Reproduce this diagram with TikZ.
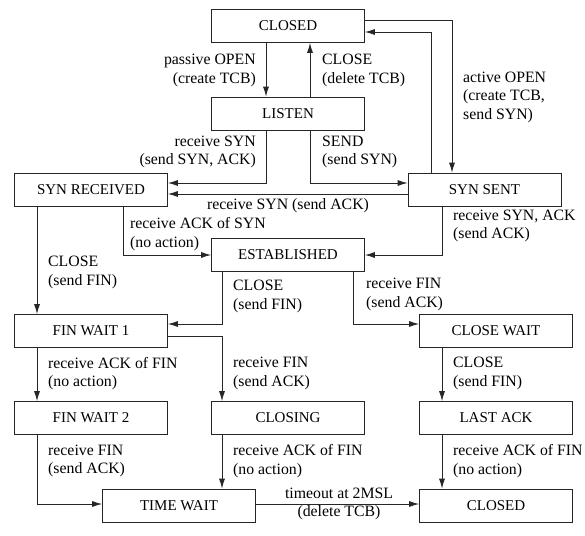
\documentclass[tikz,border=0pt]{standalone}
\usepackage{fontspec}
\setmainfont{Liberation Serif}
\usetikzlibrary{arrows.meta}
\begin{document}
\begin{tikzpicture}[x=1pt,y=-1pt,
  state/.style={draw=black!85, line width=0.8pt, rectangle, minimum width=153pt, minimum height=33pt, inner sep=0pt, font=\fontsize{15}{18}\selectfont},
  lbl/.style={inner sep=0pt, font=\fontsize{15.8}{18.5}\selectfont},
  lblL/.style={lbl, anchor=west, align=left},
  lblR/.style={lbl, anchor=east, align=right},
  conn/.style={draw=black!85, line width=0.8pt, -{Latex[length=10pt,width=6pt]}}
]
\useasboundingbox (0,0) rectangle (585,535);
\node[state] (closedT) at (288,26) {CLOSED};
\node[state] (listen) at (288,113.5) {LISTEN};
\node[state] (synrcvd) at (91,189.5) {SYN RECEIVED};
\node[state] (synsent) at (484.5,189.5) {SYN SENT};
\node[state] (estab) at (288,255) {ESTABLISHED};
\node[state] (finwait1) at (91,331) {FIN WAIT 1};
\node[state] (closewait) at (496,331) {CLOSE WAIT};
\node[state] (finwait2) at (91,418) {FIN WAIT 2};
\node[state] (closing) at (288,418) {CLOSING};
\node[state] (lastack) at (496,418) {LAST ACK};
\node[state] (timewait) at (179,505.5) {TIME WAIT};
\node[state] (closedB) at (496,505.5) {CLOSED};

% connectors
\draw[conn] ([xshift=-22pt]closedT.south) -- ([xshift=-22pt]listen.north);
\draw[conn] ([xshift=22pt]listen.north) -- ([xshift=22pt]closedT.south);
\draw[conn] ([yshift=6pt]closedT.east) -| ([xshift=-32.5pt]synsent.north);
\draw[conn] ([xshift=-53.5pt]synsent.north) |- ([yshift=-6pt]closedT.east);
\draw[conn] ([xshift=-22pt]listen.south) |- ([yshift=6.5pt]synrcvd.east);
\draw[conn] ([xshift=22pt]listen.south) |- ([yshift=6.5pt]synsent.west);
\draw[conn] ([yshift=-4.5pt]synsent.west) -- ([yshift=-4.5pt]synrcvd.east);
\draw[conn] ([xshift=32pt]synrcvd.south) |- (estab.west);
\draw[conn] ([xshift=-42.5pt]synsent.south) |- (estab.east);
\draw[conn] ([xshift=-54pt]synrcvd.south) -- ([xshift=-54pt]finwait1.north);
\draw[conn] ([xshift=-66pt]estab.south) |- ([yshift=7pt]finwait1.east);
\draw[conn] ([xshift=65pt]estab.south) |- ([yshift=7pt]closewait.west);
\draw[conn] ([xshift=-54pt]finwait1.south) -- ([xshift=-54pt]finwait2.north);
\draw[conn] ([yshift=-5pt]finwait1.east) -| ([xshift=-66pt]closing.north);
\draw[conn] ([xshift=-54pt]closewait.south) -- ([xshift=-54pt]lastack.north);
\draw[conn] ([xshift=-54pt]finwait2.south) |- ([yshift=1.5pt]timewait.west);
\draw[conn] ([xshift=-66pt]closing.south) -- ([xshift=43pt]timewait.north);
\draw[conn] ([xshift=-54pt]lastack.south) -- ([xshift=-54pt]closedB.north);
\draw[conn] ([yshift=1.5pt]timewait.east) -- ([yshift=1.5pt]closedB.west);

% labels
\node[lblR] (l1) at (256,70.5) {passive OPEN\\(create TCB)};
\node[lblL] (l2) at (322,70.5) {CLOSE\\(delete TCB)};
\node[lblL] (l3) at (463,97) {active OPEN\\(create TCB,\\send SYN)};
\node[lblR] (l4) at (256,152) {receive SYN\\(send SYN, ACK)};
\node[lblL] (l5) at (322,152) {SEND\\(send SYN)};
\node[lbl] (l6) at (288,206) {receive SYN (send ACK)};
\node[lblL] (l7) at (130,234) {receive ACK of SYN\\(no action)};
\node[lblL] (l8) at (453,226) {receive SYN, ACK\\(send ACK)};
\node[lblL] (l9) at (48,272.5) {CLOSE\\(send FIN)};
\node[lblL] (l10) at (233,296.5) {CLOSE\\(send FIN)};
\node[lblL] (l11) at (366,294.5) {receive FIN\\(send ACK)};
\node[lblL] (l12) at (48,373.5) {receive ACK of FIN\\(no action)};
\node[lblL] (l13) at (233,373.5) {receive FIN\\(send ACK)};
\node[lblL] (l14) at (453,373.5) {CLOSE\\(send FIN)};
\node[lblL] (l15) at (48,461) {receive FIN\\(send ACK)};
\node[lblL] (l16) at (233,461) {receive ACK of FIN\\(no action)};
\node[lblL] (l17) at (453,461) {receive ACK of FIN\\(no action)};
\node[lbl, align=center] (l18) at (339,504) {timeout at 2MSL\\(delete TCB)};
\end{tikzpicture}
\end{document}
